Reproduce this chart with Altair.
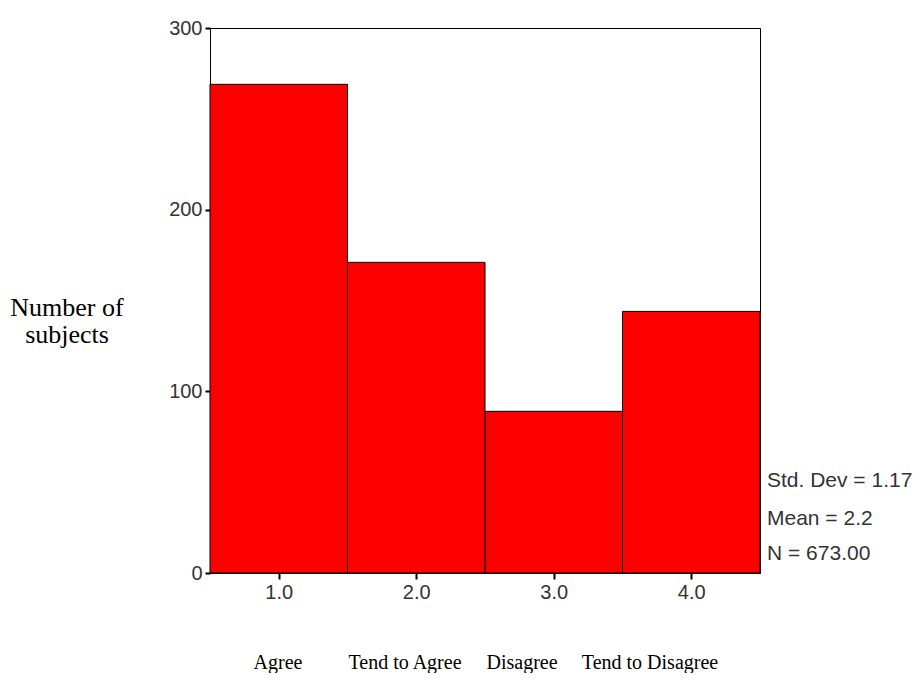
import altair as alt
import pandas as pd

values = [1, 2, 3, 4]
counts = [269, 171, 89, 144]
categories = ["Agree", "Tend to Agree", "Disagree", "Tend to Disagree"]
stats = ["Std. Dev = 1.17", "Mean = 2.2", "N = 673.00"]
y_title = ["Number of", "subjects"]
y_ticks = [0, 100, 200, 300]

df = pd.DataFrame({"v": values, "n": counts})
df["lo"] = df["v"] - 0.5
df["hi"] = df["v"] + 0.5

W, H = 550, 545
sans = "Liberation Sans"
serif = "Liberation Serif"

xscale = alt.Scale(domain=[0.5, 4.5], nice=False, zero=False)
yscale = alt.Scale(domain=[0, 300], nice=False)

bars = alt.Chart(df).mark_rect(fill="#ff0000", stroke="black", strokeWidth=1).encode(
    x=alt.X("lo:Q", scale=xscale,
            axis=alt.Axis(values=values, format=".1f", title=None, grid=False,
                          tickSize=6, tickWidth=2, tickColor="black",
                          domainColor="black", labelFont=sans, labelFontSize=20,
                          labelColor="#333333", labelPadding=3)),
    x2="hi:Q",
    y=alt.Y("n:Q", scale=yscale,
            axis=alt.Axis(values=y_ticks, grid=False, tickSize=5, tickWidth=2,
                          tickColor="black", domainColor="black", labelFont=sans,
                          labelFontSize=20, labelColor="#333333", labelPadding=3,
                          title=None)),
    y2=alt.datum(0),
)

layers = [bars]

for lab, py in zip(y_title, [288, 315]):
    layers.append(
        alt.Chart(pd.DataFrame({"t": [lab]})).mark_text(
            font=serif, fontSize=26, color="black", align="center", baseline="alphabetic"
        ).encode(x=alt.value(-143), y=alt.value(py), text="t:N")
    )

cat_x = [68, 195, 312, 440]
for lab, px in zip(categories, cat_x):
    layers.append(
        alt.Chart(pd.DataFrame({"t": [lab]})).mark_text(
            font=serif, fontSize=20, color="black", align="center", baseline="middle"
        ).encode(x=alt.value(px), y=alt.value(635), text="t:N")
    )

stat_y = [453, 491, 526]
for s, py in zip(stats, stat_y):
    layers.append(
        alt.Chart(pd.DataFrame({"t": [s]})).mark_text(
            font=sans, fontSize=21, color="#333333", align="left", baseline="middle"
        ).encode(x=alt.value(557), y=alt.value(py), text="t:N")
    )

chart = alt.layer(*layers).properties(
    width=W, height=H,
    autosize=alt.AutoSizeParams(type="none"),
    padding={"left": 202, "top": 20, "right": 155, "bottom": 100},
    background="white",
).configure_view(stroke="black", strokeWidth=1)

chart.save("out.html", embed_options={"renderer": "svg", "actions": False})
